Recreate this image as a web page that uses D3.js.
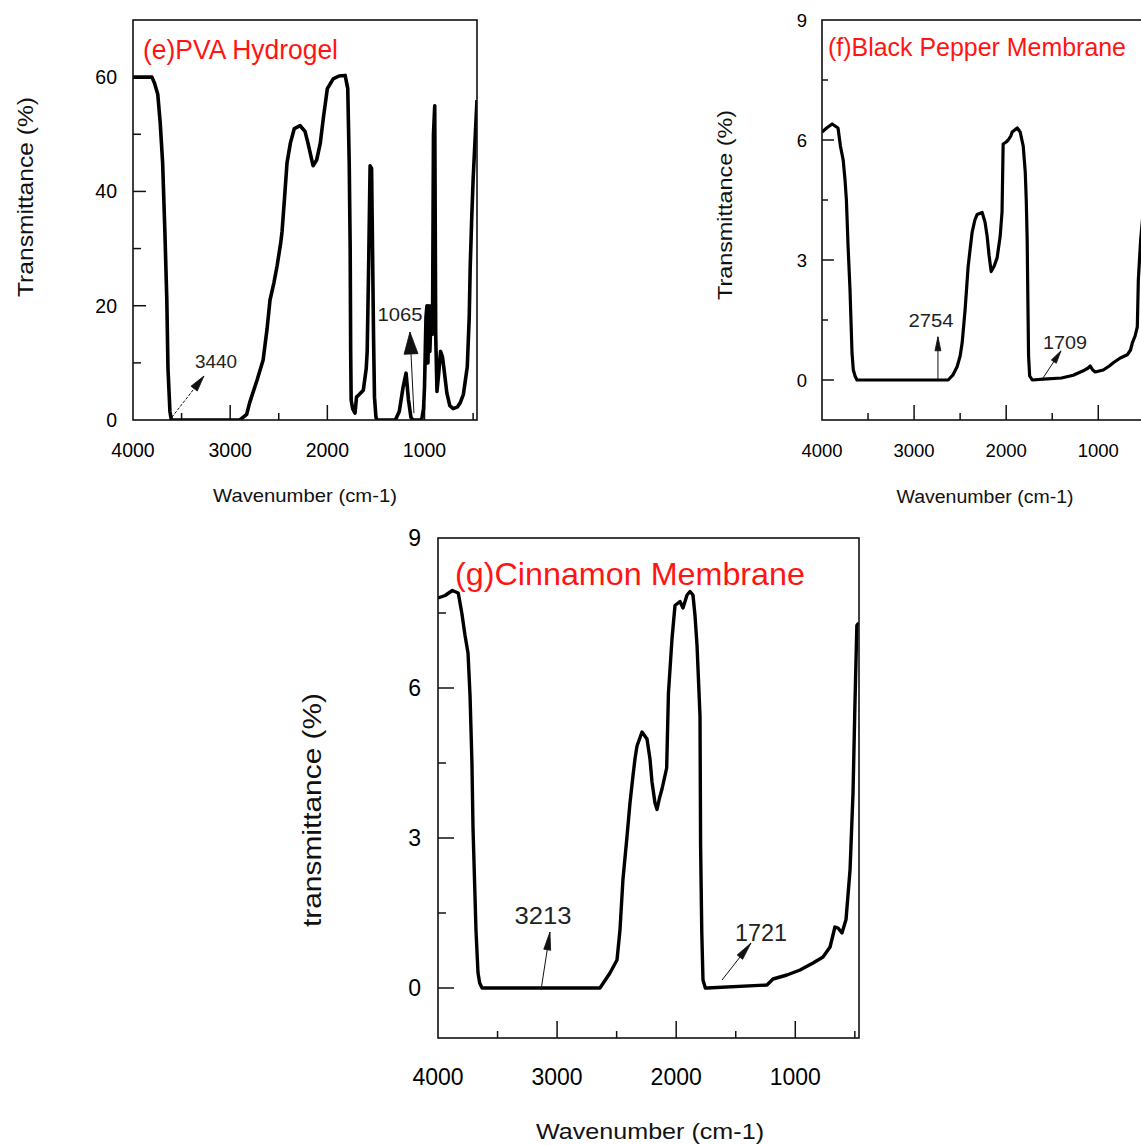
<!DOCTYPE html>
<html><head><meta charset="utf-8">
<script src="https://cdn.jsdelivr.net/npm/d3@7"></script>
<style>
body{margin:0;background:#fff}
svg{display:block}
text{font-family:"Liberation Sans",Arial,Helvetica,sans-serif}
</style>
</head><body>
<svg id="chart" width="1141" height="1145"></svg>
<script>
// ---------------- DATA ----------------
// (e) PVA Hydrogel
const pvaWavenumber = [4000,3900,3805,3780,3745,3720,3695,3672,3652,3640,3620,3605,3000,2900,2830,2800,2723,2661,2620,2590,2550,2517,2480,2466,2440,2415,2380,2340,2280,2230,2200,2147,2110,2073,2040,2000,1940,1880,1817,1790,1775,1765,1760,1755,1740,1715,1700,1670,1630,1600,1590,1575,1560,1545,1535,1525,1515,1500,1490,1300,1260,1220,1190,1165,1140,1120,1030,1010,1000,985,975,965,955,945,930,918,908,895,885,872,855,835,815,800,770,740,705,660,633,600,560,540,530,515,500,480,460];
const pvaTransmittance = [60,60,60,59,57,52,45,33,21,9,1.5,0,0,0,1,3,7,10.5,16,21,24,27,31,33,39,45,48.5,51,51.5,50.5,48.5,44.5,45.5,48.4,53,58,59.7,60.2,60.3,58,45,30,12,3.5,2,1.2,4,4.5,5.2,9,12,27,44.5,44,30,15,4,0.5,0,0,1.5,5.8,8.2,3.5,0.5,0,0,2,5.8,18,20,10,20,12,20,15,50,55,15,5,8,12,11,9,4.7,2.5,2,2.3,3,4.5,9.3,18,26.7,35,42,49,56];

// (f) Black Pepper Membrane
const pepperWavenumber = [4000,3950,3890,3826,3800,3770,3750,3735,3717,3696,3674,3660,3641,3620,2630,2580,2533,2500,2478,2446,2413,2390,2370,2340,2315,2261,2230,2207,2185,2163,2130,2098,2065,2045,2033,2000,1978,1950,1935,1880,1848,1815,1793,1782,1772,1765,1757,1745,1717,1598,1400,1272,1163,1110,1087,1060,1033,946,880,837,761,685,650,630,600,576,565,540,500,460];
const pepperTransmittance = [6.2,6.3,6.4,6.3,5.85,5.5,5.0,4.5,3.35,2.26,0.68,0.25,0.1,0,0,0.12,0.33,0.6,0.93,1.76,2.84,3.3,3.69,4.0,4.14,4.19,3.95,3.6,3.1,2.71,2.85,3.06,3.6,4.2,5.9,5.95,6.0,6.1,6.2,6.3,6.2,5.85,5.2,4.5,3.5,2.1,0.6,0.1,0,0.02,0.05,0.12,0.23,0.3,0.35,0.25,0.2,0.25,0.35,0.43,0.55,0.63,0.75,0.93,1.1,1.33,2.5,3.5,4.5,5.5];

// (g) Cinnamon Membrane
const cinnamonWavenumber = [4000,3940,3880,3830,3800,3773,3748,3731,3715,3706,3681,3664,3650,3630,2640,2556,2497,2472,2447,2413,2388,2363,2345,2329,2287,2245,2220,2203,2178,2161,2140,2119,2080,2065,2035,2010,1968,1943,1909,1884,1859,1842,1825,1800,1795,1785,1775,1755,1742,1238,1187,1070,960,851,767,708,667,641,608,574,540,515,500,483,468];
const cinnamonTransmittance = [7.8,7.85,7.95,7.9,7.5,7.05,6.7,5.85,4.5,3.2,1.15,0.3,0.1,0,0,0.3,0.56,1.16,2.17,3.03,3.7,4.24,4.6,4.84,5.12,4.98,4.58,4.12,3.7,3.57,3.8,3.98,4.4,5.9,6.99,7.65,7.73,7.6,7.86,7.93,7.86,7.45,6.85,5.44,2.83,1.1,0.16,0,0,0.06,0.18,0.26,0.36,0.5,0.62,0.82,1.22,1.2,1.1,1.37,2.37,3.92,5.58,7.25,7.3];

// tick values and labels
const xMajorTicks = [4000,3000,2000,1000];
const xMinorTicks = [3500,2500,1500,500];
const pvaYMajor = [0,20,40,60];
const pvaYMinor = [10,30,50];
const membraneYMajor = [0,3,6,9];
const membraneYMinor = [1.5,4.5,7.5];

// titles / axis titles
const titles = ["(e)PVA Hydrogel","(f)Black Pepper Membrane","(g)Cinnamon Membrane"];
const xTitle = "Wavenumber (cm-1)";
const yTitles = ["Transmittance (%)","Transmittance (%)","transmittance (%)"];

// peak annotations (data units: wavenumber, transmittance)
const pvaNotes = [
  {label:"3440", from:[3599,0.5], to:[3270,7.7], at:[3146,10.2]},
  {label:"1065", from:[1109,1.2], to:[1150,15.4], at:[1253,18.4]}
];
const pepperNotes = [
  {label:"2754", from:[2741,0], to:[2741,1.08], at:[2817,1.5]},
  {label:"1709", from:[1600,0.05], to:[1405,0.73], at:[1362,0.95]}
];
const cinnamonNotes = [
  {label:"3213", from:[3135,-0.04], to:[3060,1.12], at:[3118,1.46]},
  {label:"1721", from:[1615,0.16], to:[1372,0.9], at:[1288,1.12]}
];

// ---------------- LAYOUT / STYLE ----------------
const panels = [
  {wn:pvaWavenumber, t:pvaTransmittance, notes:pvaNotes, title:titles[0], yTitle:yTitles[0],
   left:133, right:477, top:20, bottom:420, xDomain:[4000,460], yDomain:[0,70],
   yMajor:pvaYMajor, yMinor:pvaYMinor, curveW:3.6,
   xMajLen:15, xMinLen:7, yMajLen:13, yMinLen:8,
   tickFont:19.5, xLabBase:457, yLabRight:117,
   xtX:305, xtBase:502, xtFont:18.6, xtLen:184,
   ytX:33, ytY:197, ytFont:22, ytLen:200,
   ttX:143, ttBase:59, ttFont:28, ttLen:195,
   noteFont:18, noteLens:[42,45], heads:[[16,8],[22,14]]},
  {wn:pepperWavenumber, t:pepperTransmittance, notes:pepperNotes, title:titles[1], yTitle:yTitles[1],
   left:822, right:1148, top:20, bottom:420, xDomain:[4000,460], yDomain:[-1,9],
   yMajor:membraneYMajor, yMinor:membraneYMinor, curveW:3.2,
   xMajLen:15, xMinLen:7, yMajLen:12, yMinLen:6,
   tickFont:18.5, xLabBase:457, yLabRight:807,
   xtX:985, xtBase:503, xtFont:18, xtLen:177,
   ytX:732, ytY:205, ytFont:21, ytLen:190,
   ttX:828, ttBase:56, ttFont:25.5, ttLen:298,
   noteFont:18.5, noteLens:[45,44], heads:[[14,6],[13,6]]},
  {wn:cinnamonWavenumber, t:cinnamonTransmittance, notes:cinnamonNotes, title:titles[2], yTitle:yTitles[2],
   left:438, right:859, top:538, bottom:1038, xDomain:[4000,465], yDomain:[-1,9],
   yMajor:membraneYMajor, yMinor:membraneYMinor, curveW:3.4,
   xMajLen:17, xMinLen:7, yMajLen:16, yMinLen:8,
   tickFont:23, xLabBase:1085, yLabRight:421,
   xtX:650, xtBase:1139, xtFont:22, xtLen:228,
   ytX:321, ytY:810, ytFont:25, ytLen:234,
   ttX:455, ttBase:585, ttFont:32, ttLen:350,
   noteFont:24, noteLens:[57,52], heads:[[18,7],[18,7]]}
];

const svg = d3.select("#chart");

function arrowHead(p0, p1, L, W){
  const dx=p1[0]-p0[0], dy=p1[1]-p0[1], d=Math.hypot(dx,dy)||1;
  const ux=dx/d, uy=dy/d, nx=-uy, ny=ux;
  const bx=p1[0]-ux*L, by=p1[1]-uy*L;
  return [[p1[0],p1[1]],[bx+nx*W/2,by+ny*W/2],[bx-nx*W/2,by-ny*W/2]];
}

panels.forEach((P,pi)=>{
  const x = d3.scaleLinear().domain(P.xDomain).range([P.left,P.right]);
  const y = d3.scaleLinear().domain(P.yDomain).range([P.bottom,P.top]);
  const g = svg.append("g");

  const clipId = "clip"+pi;
  svg.append("defs").append("clipPath").attr("id",clipId)
    .append("rect").attr("x",P.left).attr("y",P.top).attr("width",P.right-P.left).attr("height",P.bottom-P.top);

  // x ticks (inside, up from bottom)
  g.selectAll(null).data(xMajorTicks.filter(v=>v!==P.xDomain[0])).join("line")
    .attr("x1",d=>x(d)).attr("x2",d=>x(d)).attr("y1",P.bottom).attr("y2",P.bottom-P.xMajLen)
    .attr("stroke","#111").attr("stroke-width",1.5);
  g.selectAll(null).data(xMinorTicks).join("line")
    .attr("x1",d=>x(d)).attr("x2",d=>x(d)).attr("y1",P.bottom).attr("y2",P.bottom-P.xMinLen)
    .attr("stroke","#111").attr("stroke-width",1.5);
  // y ticks
  g.selectAll(null).data(P.yMajor.filter(v=>y(v)<P.bottom-1 && y(v)>P.top+1)).join("line")
    .attr("x1",P.left).attr("x2",P.left+P.yMajLen).attr("y1",d=>y(d)).attr("y2",d=>y(d))
    .attr("stroke","#111").attr("stroke-width",1.5);
  g.selectAll(null).data(P.yMinor).join("line")
    .attr("x1",P.left).attr("x2",P.left+P.yMinLen).attr("y1",d=>y(d)).attr("y2",d=>y(d))
    .attr("stroke","#111").attr("stroke-width",1.5);

  // tick labels
  g.selectAll(null).data(xMajorTicks).join("text")
    .attr("x",d=>x(d)).attr("y",P.xLabBase).attr("text-anchor","middle")
    .attr("font-size",P.tickFont).attr("fill","#000").text(d=>d);
  g.selectAll(null).data(P.yMajor).join("text")
    .attr("x",P.yLabRight).attr("y",d=>y(d)).attr("dy","0.36em").attr("text-anchor","end")
    .attr("font-size",P.tickFont).attr("fill","#000").text(d=>d);

  // curve
  const line = d3.line().x((d,i)=>x(P.wn[i])).y((d,i)=>y(P.t[i]));
  g.append("path").datum(P.t).attr("d",line).attr("clip-path",`url(#${clipId})`)
    .attr("fill","none").attr("stroke","#000").attr("stroke-width",P.curveW)
    .attr("stroke-linejoin","round");

  // frame
  g.append("rect").attr("x",P.left).attr("y",P.top)
    .attr("width",P.right-P.left).attr("height",P.bottom-P.top)
    .attr("fill","none").attr("stroke","#111").attr("stroke-width",1.6);

  // annotations
  P.notes.forEach((n,ni)=>{
    const p0=[x(n.from[0]),y(n.from[1])], p1=[x(n.to[0]),y(n.to[1])];
    const h=P.heads[ni];
    g.append("line").attr("x1",p0[0]).attr("y1",p0[1]).attr("x2",p1[0]).attr("y2",p1[1])
      .attr("stroke","#111").attr("stroke-width",1).attr("stroke-dasharray", ni===0&&pi===0?"3,1.5":null);
    g.append("polygon").attr("points",arrowHead(p0,p1,h[0],h[1]).map(p=>p.join(",")).join(" "))
      .attr("fill","#111").attr("stroke","#111").attr("stroke-width",0.8);
    g.append("text").attr("x",x(n.at[0])).attr("y",y(n.at[1])).attr("dy","0.36em")
      .attr("text-anchor","middle").attr("font-size",P.noteFont).attr("fill","#222")
      .attr("textLength",P.noteLens[ni]).attr("lengthAdjust","spacingAndGlyphs").text(n.label);
  });

  // panel title
  g.append("text").attr("x",P.ttX).attr("y",P.ttBase).attr("font-size",P.ttFont)
    .attr("fill","#ff1414").attr("textLength",P.ttLen).attr("lengthAdjust","spacingAndGlyphs")
    .text(P.title);

  // axis titles
  g.append("text").attr("x",P.xtX).attr("y",P.xtBase).attr("text-anchor","middle")
    .attr("font-size",P.xtFont).attr("fill","#111").attr("textLength",P.xtLen)
    .attr("lengthAdjust","spacingAndGlyphs").text(xTitle);
  g.append("text").attr("transform",`translate(${P.ytX},${P.ytY}) rotate(-90)`)
    .attr("text-anchor","middle").attr("font-size",P.ytFont).attr("fill","#111")
    .attr("textLength",P.ytLen).attr("lengthAdjust","spacingAndGlyphs").text(P.yTitle);
});
</script>
</body></html>
